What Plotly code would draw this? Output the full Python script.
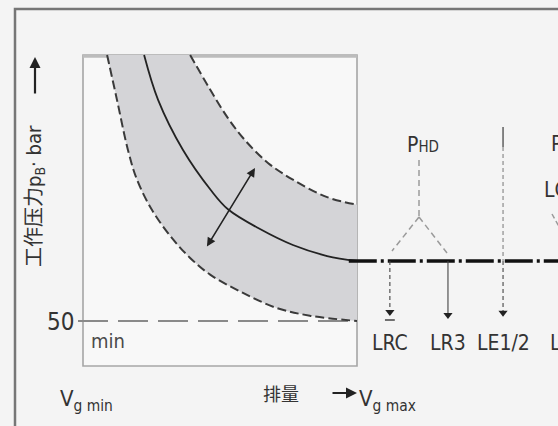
import plotly.graph_objects as go

W, H = 558, 426

# ---- data: displacement (% of Vg max) and operating pressure (bar) ----
solid_x = [22.3, 27.4, 36.5, 46.7, 52.9, 64.6, 76.6, 89.1, 100]
solid_p = [400, 341, 275, 222, 197, 171, 150, 135.5, 129]
upper_x = [39.1, 46.0, 52.9, 59.1, 67.5, 76.6, 89.1, 100]
upper_p = [400, 357, 317, 288, 258, 236, 213, 203]
lower_x = [8.8, 12.4, 16.4, 19.7, 25.2, 32.5, 39.1, 46.4, 58.4, 70.8, 82.8, 100]
lower_p = [400, 341, 275, 236, 196, 159, 133, 111, 87, 67, 57, 50]
min_pressure = 50
cutoff_pressure = 129
control_labels = ["LRC", "LR3", "LE1/2"]
control_x = [112, 133.2, 153.3]
control_tip_p = [58, 54, 57]

# ---- layout helpers (pixel readings -> axis / paper coords) ----
def X(px):
    return (px - 83) / 2.74

def P(py):
    return 50 + (321 - py) / 0.76

def PX(px):
    return px / W

def PY(py):
    return 1 - py / H

FONT = "Liberation Sans Narrow, DejaVu Sans Condensed, Arial Narrow, Noto Sans CJK SC, sans-serif"
TXT = "#333333"
BG = "#f4f4f4"
SM = 1.0

fig = go.Figure()

# gray band between the two dashed curves
fig.add_trace(go.Scatter(x=lower_x, y=lower_p, mode="lines",
                         line=dict(width=0, shape="spline", smoothing=SM),
                         hoverinfo="skip", showlegend=False))
fig.add_trace(go.Scatter(x=upper_x, y=upper_p, mode="lines", fill="tonexty",
                         fillcolor="#d4d4d7",
                         line=dict(width=0, shape="spline", smoothing=SM),
                         hoverinfo="skip", showlegend=False))

# min line
fig.add_trace(go.Scatter(x=[X(78), 100], y=[min_pressure, min_pressure], mode="lines",
                         line=dict(color="#8a8a8a", width=2, dash="30px,10px"),
                         hoverinfo="skip", showlegend=False))

# dashed limit curves
for xs, ps in ((lower_x, lower_p), (upper_x, upper_p)):
    fig.add_trace(go.Scatter(x=xs, y=ps, mode="lines",
                             line=dict(color="#3a3a3a", width=2, dash="9px,4px",
                                       shape="spline", smoothing=SM),
                             hoverinfo="skip", showlegend=False))

# solid power curve
fig.add_trace(go.Scatter(x=solid_x, y=solid_p, mode="lines",
                         line=dict(color="#222222", width=1.8, shape="spline", smoothing=SM),
                         hoverinfo="skip", showlegend=False))

# pressure cut-off line
fig.add_trace(go.Scatter(x=[97, X(565)], y=[cutoff_pressure, cutoff_pressure], mode="lines",
                         line=dict(color="#111111", width=3.5, dash="28px,4px,3px,4px"),
                         hoverinfo="skip", showlegend=False))

# control arrows
styles = ["4px,3px", "solid", "4px,3px"]
for cx, tip, ds in zip(control_x, control_tip_p, styles):
    fig.add_trace(go.Scatter(x=[cx, cx], y=[cutoff_pressure, tip + 4], mode="lines",
                             line=dict(color="#444444", width=1.1, dash=ds),
                             hoverinfo="skip", showlegend=False))
    fig.add_trace(go.Scatter(x=[cx], y=[tip + 4], mode="markers",
                             marker=dict(symbol="triangle-down", size=8, color="#222222"),
                             hoverinfo="skip", showlegend=False))

shapes = []
# outer frame
shapes.append(dict(type="rect", xref="paper", yref="paper", x0=PX(15), y0=PY(9),
                   x1=PX(W + 30), y1=PY(H + 30), line=dict(color="#767676", width=2.5),
                   layer="below"))
# inner box
shapes.append(dict(type="rect", xref="x", yref="y", x0=0, x1=100, y0=P(366), y1=400,
                   line=dict(color="#a6a6a6", width=1.6), fillcolor="#f8f8f8", layer="below"))
shapes.append(dict(type="line", xref="x", yref="y", x0=0, x1=100, y0=P(56), y1=P(56),
                   line=dict(color="#bcbcbc", width=3.5), layer="below"))
# PHD pilot lines
phd_col = "#9a9a9a"
shapes.append(dict(type="line", xref="x", yref="y", x0=X(419), x1=X(419), y0=P(160), y1=P(217),
                   line=dict(color=phd_col, width=1.5, dash="6px,4px")))
shapes.append(dict(type="line", xref="x", yref="y", x0=X(419), x1=X(392), y0=P(217), y1=P(251),
                   line=dict(color=phd_col, width=1.5, dash="6px,4px")))
shapes.append(dict(type="line", xref="x", yref="y", x0=X(419), x1=X(447), y0=P(217), y1=P(253),
                   line=dict(color=phd_col, width=1.5, dash="6px,4px")))
# LE1/2 pilot line above cut-off line
shapes.append(dict(type="line", xref="x", yref="y", x0=control_x[2], x1=control_x[2],
                   y0=P(127), y1=P(147), line=dict(color="#555555", width=1.4)))
shapes.append(dict(type="line", xref="x", yref="y", x0=control_x[2], x1=control_x[2],
                   y0=P(147), y1=cutoff_pressure, line=dict(color="#777777", width=1, dash="4px,3px")))
# LRC bar
shapes.append(dict(type="line", xref="x", yref="y", x0=control_x[0] - 1.8, x1=control_x[0] + 1.8,
                   y0=P(320), y1=P(320), line=dict(color="#444444", width=1.5)))
# partial pilot line at right edge
shapes.append(dict(type="line", xref="x", yref="y", x0=X(552), x1=X(562), y0=P(214), y1=P(232),
                   line=dict(color=phd_col, width=1.5, dash="5px,3px")))

ann = []

def text(s, px, py, size, xanchor="center", color=TXT, angle=0):
    ann.append(dict(text=s, x=PX(px), y=PY(py), xref="paper", yref="paper", showarrow=False,
                    xanchor=xanchor, yanchor="middle", textangle=angle,
                    font=dict(family=FONT, size=size, color=color)))

text("50", 60, 322, 24)
text("min", 108, 341, 20, color="#4a4a4a")
text("P<span style='font-size:15px'>HD</span>", 423, 145, 21)
text("P", 549, 144, 21, xanchor="left")
text("LC", 542, 190, 21, xanchor="left")
for lab, cx in zip(control_labels, control_x):
    px = 83 + 2.74 * cx
    text(lab, px, 343, 21)
text("LC", 548, 343, 21, xanchor="left")
text("V<sub>g min</sub>", 58, 400, 22, xanchor="left")
text("排量", 281, 394, 18)
text("V<sub>g max</sub>", 357, 400, 22, xanchor="left")
text("工作压力p<sub>B</sub>· bar", 35, 196, 20, angle=-90)

# arrows
ann.append(dict(text="", x=PX(357), y=PY(393), xref="paper", yref="paper", ax=-26, ay=0,
                showarrow=True, arrowhead=2, arrowsize=1, arrowwidth=2.2, arrowcolor="#222222"))
ann.append(dict(text="", x=PX(35), y=PY(57), xref="paper", yref="paper", ax=0, ay=38,
                showarrow=True, arrowhead=2, arrowsize=1, arrowwidth=2.2, arrowcolor="#222222"))
ann.append(dict(text="", x=X(255), y=P(168), xref="x", yref="y", ax=X(206), ay=P(248),
                axref="x", ayref="y", showarrow=True, arrowside="end+start",
                arrowhead=2, startarrowhead=2, arrowsize=1.1, startarrowsize=1.1,
                arrowwidth=1.6, arrowcolor="#222222"))

fig.update_layout(
    width=W, height=H,
    margin=dict(l=0, r=0, t=0, b=0),
    paper_bgcolor=BG, plot_bgcolor=BG,
    xaxis=dict(range=[X(0), X(W)], visible=False, fixedrange=True),
    yaxis=dict(range=[P(H), P(0)], visible=False, fixedrange=True),
    shapes=shapes, annotations=ann, showlegend=False,
)

fig.write_html("out.html", post_script="document.body.style.margin='0';",
               config={"displayModeBar": False})
